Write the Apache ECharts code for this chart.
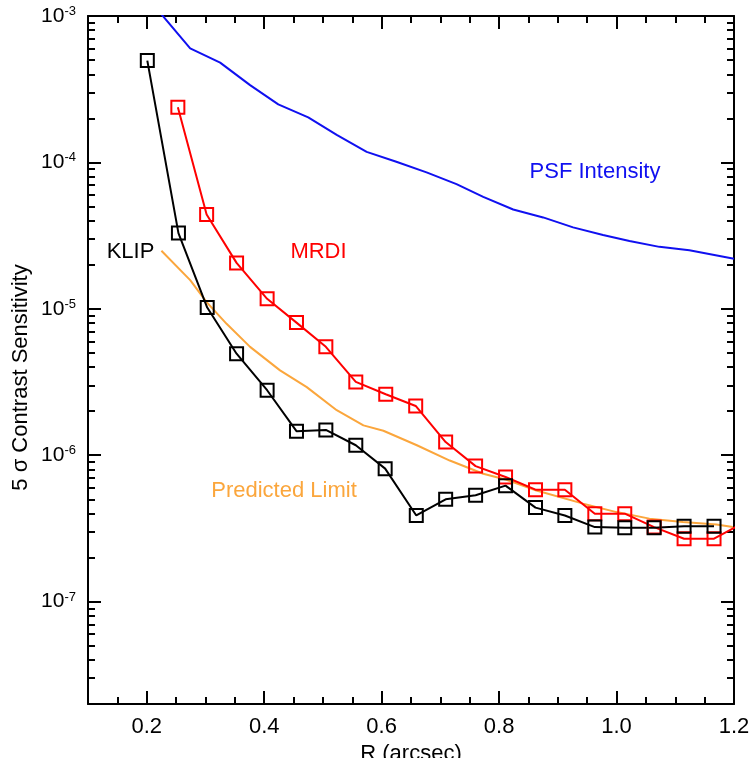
<!DOCTYPE html>
<html><head><meta charset="utf-8">
<script src="https://cdn.jsdelivr.net/npm/echarts@6/dist/echarts.min.js"></script>
<style>html,body{margin:0;padding:0;background:#fff}#c{width:751px;height:758px}</style>
</head><body><div id="c"></div>
<script>
// ---- data ----
const klipR = [0.201,0.254,0.303,0.353,0.405,0.455,0.505,0.556,0.606,0.659,0.709,0.760,0.811,0.862,0.912,0.963,1.014,1.064,1.115,1.166];
const klip  = [4.96e-4,3.29e-5,1.02e-5,4.94e-6,2.78e-6,1.46e-6,1.49e-6,1.17e-6,8.1e-7,3.88e-7,5.0e-7,5.33e-7,6.2e-7,4.39e-7,3.88e-7,3.23e-7,3.2e-7,3.2e-7,3.27e-7,3.28e-7];
const mrdiR = [0.253,0.302,0.353,0.405,0.455,0.505,0.556,0.607,0.658,0.709,0.760,0.811,0.862,0.912,0.963,1.014,1.064,1.115,1.166,1.217];
const mrdi  = [2.38e-4,4.41e-5,2.06e-5,1.17e-5,8.05e-6,5.5e-6,3.17e-6,2.61e-6,2.17e-6,1.23e-6,8.43e-7,7.1e-7,5.82e-7,5.82e-7,3.99e-7,3.99e-7,3.23e-7,2.69e-7,2.69e-7,3.48e-7];
const predR = [0.225,0.274,0.302,0.336,0.376,0.427,0.4725,0.5235,0.569,0.603,0.660,0.716,0.773,0.8126,0.8636,0.943,1.0,1.056,1.113,1.170,1.198];
const pred  = [2.49e-5,1.57e-5,1.11e-5,7.9e-6,5.5e-6,3.8e-6,2.92e-6,2.03e-6,1.60e-6,1.47e-6,1.17e-6,9.2e-7,7.48e-7,6.8e-7,5.75e-7,4.67e-7,4.09e-7,3.69e-7,3.50e-7,3.37e-7,3.23e-7];
const psfR  = [0.223,0.274,0.325,0.376,0.424,0.475,0.5235,0.5745,0.625,0.6765,0.7275,0.773,0.824,0.875,0.926,0.977,1.022,1.073,1.124,1.2];
const psf   = [1.05e-3,6.01e-4,4.8e-4,3.37e-4,2.49e-4,2.03e-4,1.54e-4,1.18e-4,1.01e-4,8.55e-5,7.1e-5,5.82e-5,4.77e-5,4.21e-5,3.6e-5,3.19e-5,2.91e-5,2.65e-5,2.51e-5,2.2e-5];

const xMajor = [0.2,0.4,0.6,0.8,1.0,1.2];
const xMinor = [0.15,0.25,0.3,0.35,0.45,0.5,0.55,0.65,0.7,0.75,0.85,0.9,0.95,1.05,1.1,1.15];
const yMajor = [1e-7,1e-6,1e-5,1e-4,1e-3];
const yMinorMant = [2,3,4,5,6,7,8,9];
const yDecades = [1e-8,1e-7,1e-6,1e-5,1e-4];

const xMin = 0.1, xMax = 1.2, yMin = 2e-8, yMax = 1e-3;
const labelText = ['PSF Intensity','MRDI','KLIP','Predicted Limit'];
const yTitle = '5 \u03c3 Contrast Sensitivity';
const xTitle = 'R (arcsec)';

// ---- build ----
const yMinor = [];
yDecades.forEach(d => yMinorMant.forEach(m => { const v = +(m*d).toPrecision(3); if (v >= yMin && v < yMax) yMinor.push(v); }));

const FONT = '"Liberation Sans", Arial, Helvetica, sans-serif';
const FS = 22;
const AX = '#000', LW = 2;
const pairs = (xs, ys) => xs.map((x,i) => [x, ys[i]]);

function xAx(pos, ticks, len, labels) {
  return { type:'value', position: pos, min:xMin, max:xMax,
    axisLine:{show: ticks === xMajor, lineStyle:{color:AX,width:LW}},
    axisTick:{show:true, inside:true, length:len, customValues:ticks, lineStyle:{color:AX,width:LW}},
    axisLabel:{show:labels, customValues:ticks, margin:12, color:'#000', fontSize:FS, fontFamily:FONT,
      formatter: v => v.toFixed(1)},
    splitLine:{show:false},
    name: labels ? xTitle : '', nameLocation:'middle', nameGap:32,
    nameTextStyle:{color:'#000', fontSize:FS, fontFamily:FONT} };
}
function yAx(pos, ticks, len, labels) {
  return { type:'log', logBase:10, position: pos, min:yMin, max:yMax,
    axisLine:{show: ticks === yMajor, lineStyle:{color:AX,width:LW}},
    axisTick:{show:true, inside:true, length:len, customValues:ticks, lineStyle:{color:AX,width:LW}},
    axisLabel:{show:labels, customValues:ticks, margin:12, color:'#000', fontFamily:FONT,
      formatter: v => '{b|10}{s|' + Math.round(Math.log10(v)) + '}',
      rich:{ b:{fontSize:21, fontFamily:FONT, color:'#000'},
             s:{fontSize:13, fontFamily:FONT, color:'#000', verticalAlign:'top', padding:[0,0,9,0]} } },
    splitLine:{show:false}, minorTick:{show:false} };
}

function lineSeries(xs, ys, color, sym) {
  return { type:'line', xAxisIndex:0, yAxisIndex:0, data: pairs(xs, ys),
    clip:true, silent:true, animation:false,
    showSymbol: !!sym, symbol: sym ? 'rect' : 'none', symbolSize: 13,
    itemStyle:{color:'rgba(0,0,0,0)', borderColor:color, borderWidth:2},
    lineStyle:{color:color, width:2} };
}

const chart = echarts.init(document.getElementById('c'), null, {renderer:'canvas'});
chart.setOption({
  animation:false,
  backgroundColor:'#fff',
  grid:{left:88, top:16, right:17, bottom:54, containLabel:false, outerBoundsMode:'none'},
  xAxis:[ xAx('bottom', xMajor, 13, true), xAx('bottom', xMinor, 7, false),
          xAx('top', xMajor, 13, false), xAx('top', xMinor, 7, false) ],
  yAxis:[ yAx('left', yMajor, 13, true), yAx('left', yMinor, 7, false),
          yAx('right', yMajor, 13, false), yAx('right', yMinor, 7, false) ],
  series:[
    lineSeries(psfR, psf, '#1010f0', false),
    lineSeries(predR, pred, '#fba63c', false),
    lineSeries(mrdiR, mrdi, '#ff0000', true),
    lineSeries(klipR, klip, '#000000', true)
  ],
  graphic:[
    {type:'text', x:595, y:172, style:{text:labelText[0], fill:'#1010f0', font:FS+'px '+FONT, align:'center', verticalAlign:'middle'}},
    {type:'text', x:318.5, y:252, style:{text:labelText[1], fill:'#ff0000', font:FS+'px '+FONT, align:'center', verticalAlign:'middle'}},
    {type:'text', x:130.5, y:252, style:{text:labelText[2], fill:'#000000', font:FS+'px '+FONT, align:'center', verticalAlign:'middle'}},
    {type:'text', x:284, y:491, style:{text:labelText[3], fill:'#fba63c', font:FS+'px '+FONT, align:'center', verticalAlign:'middle'}},
    {type:'text', x:21, y:377.5, rotation:Math.PI/2, style:{text:yTitle, fill:'#000', font:FS+'px '+FONT, align:'center', verticalAlign:'middle'}}
  ]
});
</script></body></html>
